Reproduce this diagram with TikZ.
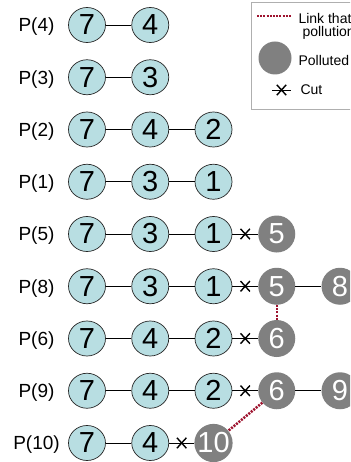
\documentclass[tikz,border=0pt]{standalone}
\usepackage{fontspec}
\setmainfont{Liberation Sans}
\usetikzlibrary{shapes.misc,shapes.geometric}

\definecolor{cleanfill}{RGB}{184,222,226}
\definecolor{dirtyfill}{RGB}{128,128,128}
\definecolor{spreadred}{RGB}{158,18,46}
\definecolor{framegray}{RGB}{175,175,175}

\tikzset{
  clean/.style={ellipse, draw=black!85, line width=0.7pt, fill=cleanfill,
    minimum width=37pt, minimum height=35pt, inner sep=0pt,
    font=\fontsize{29}{29}\selectfont},
  dirty/.style={circle, fill=dirtyfill, minimum size=37pt, inner sep=0pt,
    text=white, font=\fontsize{29}{29}\selectfont},
  plabel/.style={font=\fontsize{19}{20}\selectfont},
  legtext/.style={anchor=west, font=\fontsize{14}{15}\selectfont},
  link/.style={line width=0.75pt},
  cutmark/.style={cross out, draw, line width=1.4pt, minimum width=8pt,
    minimum height=9pt, inner sep=0pt},
  spread/.style={spreadred, line width=2.5pt, dash pattern=on 2pt off 1.2pt}
}

\begin{document}
\begin{tikzpicture}[x=1pt,y=-1pt]
\clip (0,0) rectangle (350,462);
\fill[white] (0,0) rectangle (350,462);

% legend
\draw[framegray, line width=0.8pt] (251,2) rectangle (362,109);
\coordinate (sa) at (257,16);
\coordinate (sb) at (291,16);
\draw[spread, line width=2pt] (sa) -- (sb);
\node[legtext] (ltop) at (295,18) {Link that};
\node[legtext] (lbot) at (299,33) {pollution};
\node[dirty, minimum size=33pt] (lpol) at (275,58) {};
\node[legtext] (ltxt) at (295,60) {Polluted};
\coordinate (ca) at (272,90);
\coordinate (cb) at (291,90);
\draw[link] (ca) -- (cb) node[midway, cutmark] (lx) {};
\node[legtext] (lcut) at (297,90) {Cut};

% P(4)
\node[plabel] (l4) at (36.5,27) {P(4)};
\node[clean] (p4a) at (87,25) {7};
\node[clean] (p4b) at (150.25,25) {4};
\draw[link] (p4a) -- (p4b);

% P(3)
\node[plabel] (l3) at (36.5,79.25) {P(3)};
\node[clean] (p3a) at (87,77.25) {7};
\node[clean] (p3b) at (150.25,77.25) {3};
\draw[link] (p3a) -- (p3b);

% P(2)
\node[plabel] (l2) at (36.5,131.5) {P(2)};
\node[clean] (p2a) at (87,129.5) {7};
\node[clean] (p2b) at (150.25,129.5) {4};
\node[clean] (p2c) at (213.5,129.5) {2};
\draw[link] (p2a) -- (p2b);
\draw[link] (p2b) -- (p2c);

% P(1)
\node[plabel] (l1) at (36.5,183.75) {P(1)};
\node[clean] (p1a) at (87,181.75) {7};
\node[clean] (p1b) at (150.25,181.75) {3};
\node[clean] (p1c) at (213.5,181.75) {1};
\draw[link] (p1a) -- (p1b);
\draw[link] (p1b) -- (p1c);

% P(5)
\node[plabel] (l5) at (36.5,236) {P(5)};
\node[clean] (p5a) at (87,234) {7};
\node[clean] (p5b) at (150.25,234) {3};
\node[clean] (p5c) at (213.5,234) {1};
\node[dirty] (p5d) at (276.75,234) {5};
\draw[link] (p5a) -- (p5b);
\draw[link] (p5b) -- (p5c);
\draw[link] (p5c) -- (p5d) node[midway, cutmark] (x5) {};

% P(8)
\node[plabel] (l8) at (36.5,288.25) {P(8)};
\node[clean] (p8a) at (87,286.25) {7};
\node[clean] (p8b) at (150.25,286.25) {3};
\node[clean] (p8c) at (213.5,286.25) {1};
\node[dirty] (p8d) at (276.75,286.25) {5};
\node[dirty] (p8e) at (340,286.25) {8};
\draw[link] (p8a) -- (p8b);
\draw[link] (p8b) -- (p8c);
\draw[link] (p8c) -- (p8d) node[midway, cutmark] (x8) {};
\draw[link] (p8d) -- (p8e);

% P(6)
\node[plabel] (l6) at (36.5,340.5) {P(6)};
\node[clean] (p6a) at (87,338.5) {7};
\node[clean] (p6b) at (150.25,338.5) {4};
\node[clean] (p6c) at (213.5,338.5) {2};
\node[dirty] (p6d) at (276.75,338.5) {6};
\draw[link] (p6a) -- (p6b);
\draw[link] (p6b) -- (p6c);
\draw[link] (p6c) -- (p6d) node[midway, cutmark] (x6) {};

% P(9)
\node[plabel] (l9) at (36.5,392.75) {P(9)};
\node[clean] (p9a) at (87,390.75) {7};
\node[clean] (p9b) at (150.25,390.75) {4};
\node[clean] (p9c) at (213.5,390.75) {2};
\node[dirty] (p9d) at (276.75,390.75) {6};
\node[dirty] (p9e) at (340,390.75) {9};
\draw[link] (p9a) -- (p9b);
\draw[link] (p9b) -- (p9c);
\draw[link] (p9c) -- (p9d) node[midway, cutmark] (x9) {};
\draw[link] (p9d) -- (p9e);

% P(10)
\node[plabel] (l10) at (36.5,445) {P(10)};
\node[clean] (p10a) at (87,443) {7};
\node[clean] (p10b) at (150.25,443) {4};
\node[dirty] (p10c) at (213.5,443) {10};
\draw[link] (p10a) -- (p10b);
\draw[link] (p10b) -- (p10c) node[midway, cutmark] (x10) {};

% links that spread the pollution
\draw[spread] (p8d) -- (p6d);
\draw[spread] (p9d) -- (p10c);
\end{tikzpicture}
\end{document}
